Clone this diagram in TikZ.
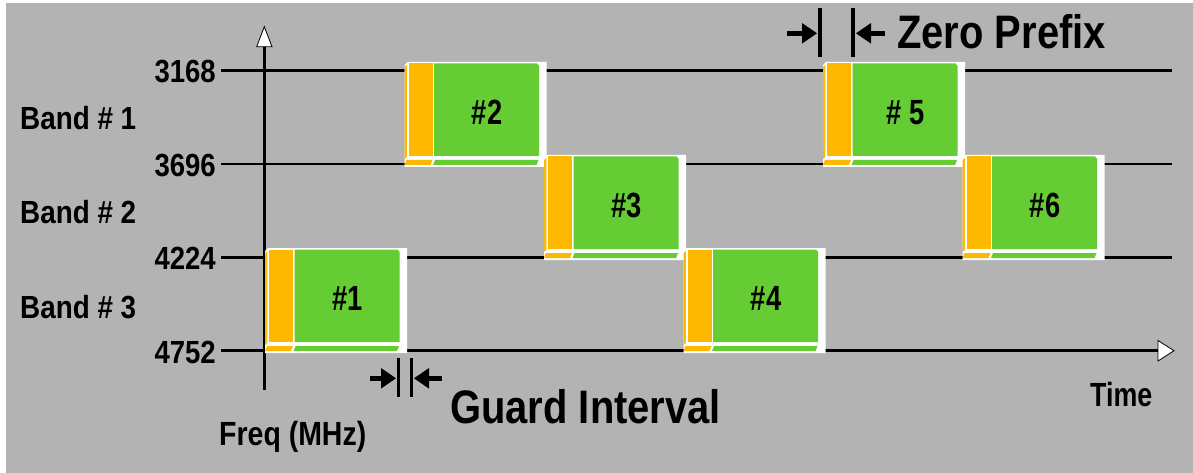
\documentclass[tikz,border=0pt]{standalone}
\usepackage{fontspec}
\setmainfont{Liberation Sans}
\usepackage{graphicx}

\definecolor{panelgray}{RGB}{179,179,179}
\definecolor{pfxorange}{RGB}{255,184,0}
\definecolor{datagreen}{RGB}{102,204,51}

% horizontally condensed text
\newcommand\narrow[2]{\scalebox{#1}[1]{#2}}

\tikzset{
  gridline/.style={line width=2.6pt, black},
  axisline/.style={line width=2.8pt, black},
  hollowhead/.style={fill=white, draw=black, line width=0.8pt, line join=miter},
  marker/.style={line width=4.5pt, black},
  markbar/.style={line width=3.6pt, black},
  lbl/.style={font=\bfseries\fontsize{32}{36}\selectfont, inner sep=0pt},
  biglbl/.style={font=\bfseries\fontsize{47}{52}\selectfont, inner sep=0pt},
  smalllbl/.style={font=\bfseries\fontsize{33.5}{36}\selectfont, inner sep=0pt},
  boxlbl/.style={font=\bfseries\fontsize{35}{38}\selectfont, inner sep=0pt},
}

% one OFDM symbol slot: name, left, top, label
\newcommand\ofdmslot[4]{%
  \begin{scope}[shift={(#2,#3)}]
    \fill[white] (0,3) -- (3,0) -- (142,0) -- (142,105) -- (0,105) -- cycle;
    \fill[pfxorange] (0,5) -- (2.3,3) -- (2.3,95) -- (0,97) -- cycle;
    \fill[pfxorange] (4,1.5) rectangle (28.3,94);
    \fill[datagreen] (29.7,1.5) -- (132.5,1.5) -- (134.7,4) -- (134.7,94) -- (29.7,94) -- cycle;
    \fill[pfxorange] (0,103) -- (2,98) -- (28,98) -- (26,103) -- cycle;
    \fill[datagreen] (28.5,103) -- (30.5,98) -- (134,98) -- (132,103) -- cycle;
    \node[boxlbl, anchor=base] (#1) at (82.5,62.5) {\narrow{0.78}{#4}};
  \end{scope}}

\begin{document}
\begin{tikzpicture}[x=1pt, y=-1pt]
  \useasboundingbox (0,0) rectangle (1193,473);
  \fill[white] (0,0) rectangle (1193,473);
  \fill[panelgray] (6,3) rectangle (1193,473);

  % frequency levels
  \coordinate (f1w) at (221,70.7);   \coordinate (f1e) at (1172,70.7);
  \coordinate (f2w) at (221,164);    \coordinate (f2e) at (1172,164);
  \coordinate (f3w) at (221,257.3);  \coordinate (f3e) at (1172,257.3);
  \coordinate (f4w) at (221,350.7);  \coordinate (f4e) at (1158,350.7);
  \coordinate (ybot) at (264.3,390); \coordinate (ytop) at (264.3,46);
  \draw[gridline] (f1w) -- (f1e);
  \draw[gridline] (f2w) -- (f2e);
  \draw[gridline] (f3w) -- (f3e);
  \draw[gridline] (f4w) -- (f4e);
  \draw[axisline] (ybot) -- (ytop);
  \draw[hollowhead] (256.7,46.7) -- (264.3,26.7) -- (272,46.7) -- cycle;
  \draw[hollowhead] (1158,340.5) -- (1174,350.7) -- (1158,361) -- cycle;

  % symbols hopping over the three bands
  \ofdmslot{s1}{265}{248}{\#1}
  \ofdmslot{s2}{404.5}{62}{\#2}
  \ofdmslot{s3}{544}{155}{\#3}
  \ofdmslot{s4}{683.5}{248}{\#4}
  \ofdmslot{s5}{823}{62}{\# 5}
  \ofdmslot{s6}{962.5}{155}{\#6}

  % axis labels
  \node[lbl, anchor=base east] (n3168) at (216,83) {\narrow{0.86}{3168}};
  \node[lbl, anchor=base east] (n3696) at (216,176.3) {\narrow{0.86}{3696}};
  \node[lbl, anchor=base east] (n4224) at (216,269.6) {\narrow{0.86}{4224}};
  \node[lbl, anchor=base east] (n4752) at (216,363) {\narrow{0.86}{4752}};
  \node[lbl, anchor=base west] (b1) at (20,130) {\narrow{0.87}{Band \# 1}};
  \node[lbl, anchor=base west] (b2) at (20,223.3) {\narrow{0.87}{Band \# 2}};
  \node[lbl, anchor=base west] (b3) at (20,318.3) {\narrow{0.87}{Band \# 3}};
  \node[smalllbl, anchor=base west] (freq) at (219,445) {\narrow{0.85}{Freq (MHz)}};
  \node[smalllbl, anchor=base west] (time) at (1090,406) {\narrow{0.80}{Time}};

  % zero prefix marker
  \coordinate (zpa) at (786.7,33.3); \coordinate (zpb) at (804,33.3);
  \coordinate (zpc) at (870,33.3);   \coordinate (zpd) at (885,33.3);
  \draw[marker] (zpa) -- (zpb);
  \fill (802,23) -- (817,33.3) -- (802,43.6) -- cycle;
  \draw[markbar] (819.8,8.3) -- (819.8,56.7);
  \draw[markbar] (852.7,8.3) -- (852.7,56.7);
  \fill (871,23) -- (856,33.3) -- (871,43.6) -- cycle;
  \draw[marker] (zpc) -- (zpd);
  \node[biglbl, anchor=base west] (zp) at (897,49) {\narrow{0.85}{Zero Prefix}};

  % guard interval marker
  \coordinate (gia) at (370,378.3); \coordinate (gib) at (383,378.3);
  \coordinate (gic) at (427,378.3); \coordinate (gid) at (442,378.3);
  \draw[marker] (gia) -- (gib);
  \fill (381,368) -- (396,378.3) -- (381,388.6) -- cycle;
  \draw[markbar] (398.5,358) -- (398.5,397);
  \draw[markbar] (411.5,358) -- (411.5,397);
  \fill (429,368) -- (414,378.3) -- (429,388.6) -- cycle;
  \draw[marker] (gic) -- (gid);
  \node[biglbl, anchor=base west] (gi) at (450,423.5) {\narrow{0.85}{Guard Interval}};
\end{tikzpicture}
\end{document}
